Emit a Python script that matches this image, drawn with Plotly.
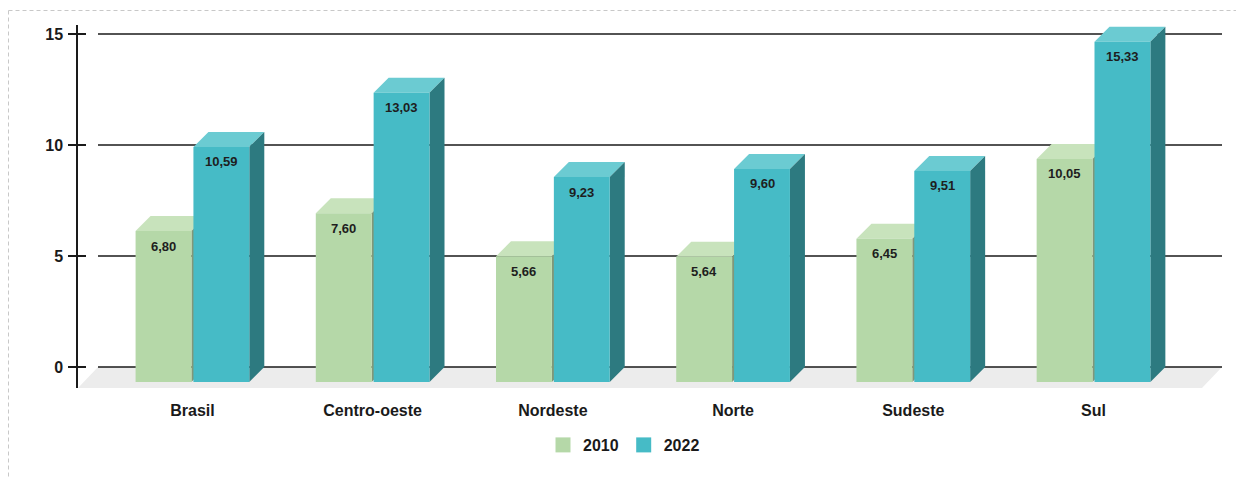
import plotly.graph_objects as go

# ---- data -------------------------------------------------------------
regions = ["Brasil", "Centro-oeste", "Nordeste", "Norte", "Sudeste", "Sul"]
values_2010 = [6.80, 7.60, 5.66, 5.64, 6.45, 10.05]
values_2022 = [10.59, 13.03, 9.23, 9.60, 9.51, 15.33]
series_names = ["2010", "2022"]
y_ticks = [0, 5, 10, 15]

# ---- styling / geometry ----------------------------------------------
FONT = "Liberation Sans, Arial, sans-serif"
FRONT = ["#b5d8a8", "#46bbc6"]
TOP = ["#c8e3bc", "#6bcbd2"]
SIDE = ["#7f9878", "#2d7a80"]

W, H = 1236, 477
M_L, M_R, M_T, M_B = 78, 14, 25, 89
PLOT_W = W - M_L - M_R
PLOT_H = H - M_T - M_B

PX_PER_Y = 22.2          # pixels per value unit
DEPTH_PX = 15            # 3D depth of bars
FLOOR_PX = 20            # depth of floor
FRONT_BASE_PX = 6        # front baseline above plot bottom

X_RANGE = [-0.635, 5.713]
PX_PER_X = PLOT_W / (X_RANGE[1] - X_RANGE[0])

y_front = [-FRONT_BASE_PX / PX_PER_Y, (PLOT_H - FRONT_BASE_PX) / PX_PER_Y]
back_shift = DEPTH_PX / PX_PER_Y
y_back = [y_front[0] - back_shift, y_front[1] - back_shift]

dx = DEPTH_PX / PX_PER_X
dy = DEPTH_PX / PX_PER_Y
BAR_W = 0.31
GAP = 0.011
offsets = [-BAR_W - GAP / 2, GAP / 2]

xs = list(range(len(regions)))
series = [values_2010, values_2022]

fig = go.Figure()
shapes = []

# floor
fx0, fx1 = X_RANGE
fdx = FLOOR_PX / PX_PER_X
f_front = y_front[0]
f_back = y_front[0] + (FLOOR_PX + 1) / PX_PER_Y
shapes.append(dict(
    type="path", xref="x", yref="y", layer="below",
    path=f"M{fx0},{f_front} L{fx1 - fdx},{f_front} L{fx1},{f_back} L{fx0 + fdx},{f_back} Z",
    fillcolor="#ececec", line=dict(width=0)))

# back-wall grid lines
for t in y_ticks:
    shapes.append(dict(
        type="line", xref="x", yref="y2", layer="below",
        x0=fx0 + fdx, x1=fx1, y0=t, y1=t,
        line=dict(color="#1a1a1a", width=1.5)))

# bars with top and side faces
for s, vals in enumerate(series):
    fig.add_trace(go.Bar(
        x=xs, y=vals, offset=offsets[s], width=BAR_W,
        marker=dict(color=FRONT[s], line=dict(width=0)),
        name=series_names[s], showlegend=False,
        hovertemplate="%{y:.2f}<extra>" + series_names[s] + "</extra>"))
    for i, v in zip(xs, vals):
        xl = i + offsets[s]
        xr = xl + BAR_W
        shapes.append(dict(
            type="path", xref="x", yref="y", layer="between",
            path=f"M{xl},{v} L{xr},{v} L{xr + dx},{v + dy} L{xl + dx},{v + dy} Z",
            fillcolor=TOP[s], line=dict(width=0)))
        shapes.append(dict(
            type="path", xref="x", yref="y", layer="between",
            path=f"M{xr},0 L{xr + dx},{dy} L{xr + dx},{v + dy} L{xr},{v} Z",
            fillcolor=SIDE[s], line=dict(width=0)))

# value labels
annotations = []
for s, vals in enumerate(series):
    for i, v in zip(xs, vals):
        annotations.append(dict(
            x=i + offsets[s] + BAR_W / 2, y=v, xref="x", yref="y",
            text=f"{v:.2f}".replace(".", ","), showarrow=False,
            yshift=-15, yanchor="middle",
            font=dict(family=FONT, size=13, color="#1e1e1e", weight="bold")))

# legend entries
for s in range(2):
    fig.add_trace(go.Scatter(
        x=[None], y=[None], mode="markers", name=series_names[s],
        marker=dict(symbol="square", size=15, color=FRONT[s]),
        yaxis="y", showlegend=True))

# dashed frame (top and left)
def px_to_paper_x(px):
    return (px - M_L) / PLOT_W

def px_to_paper_y(py):
    return (H - M_B - py) / PLOT_H

shapes.append(dict(type="line", xref="paper", yref="paper",
                   x0=px_to_paper_x(8.5), x1=px_to_paper_x(W), y0=px_to_paper_y(10.5), y1=px_to_paper_y(10.5),
                   line=dict(color="#c8c8c8", width=1, dash="4px,3px")))
shapes.append(dict(type="line", xref="paper", yref="paper",
                   x0=px_to_paper_x(8.5), x1=px_to_paper_x(8.5), y0=px_to_paper_y(10.5), y1=px_to_paper_y(H),
                   line=dict(color="#c8c8c8", width=1, dash="4px,3px")))

fig.update_layout(
    width=W, height=H,
    margin=dict(l=M_L, r=M_R, t=M_T, b=M_B, pad=0),
    paper_bgcolor="white", plot_bgcolor="white",
    barmode="overlay",
    font=dict(family=FONT, color="#1a1a1a"),
    xaxis=dict(range=X_RANGE, tickvals=xs, ticktext=regions,
               showgrid=False, zeroline=False, showline=False, ticks="",
               ticklabelstandoff=11,
               tickfont=dict(family=FONT, size=16, color="#1a1a1a", weight="bold")),
    yaxis=dict(range=y_front, visible=False, showgrid=False, zeroline=False),
    yaxis2=dict(range=y_back, overlaying="y", side="left", anchor="x",
                tickvals=y_ticks, ticktext=[str(t) for t in y_ticks],
                showgrid=False, zeroline=False,
                showline=True, linecolor="#1a1a1a", linewidth=1.5,
                ticks="outside", ticklen=8, tickwidth=1.5, tickcolor="#1a1a1a",
                ticklabelstandoff=2,
                tickfont=dict(family=FONT, size=16, color="#1a1a1a", weight="bold")),
    yaxis3=dict(range=y_back, overlaying="y", side="left", anchor="x",
                tickvals=y_ticks, showticklabels=False,
                showgrid=False, zeroline=False, showline=False,
                ticks="inside", ticklen=8, tickwidth=1.5, tickcolor="#1a1a1a"),
    legend=dict(orientation="h", x=px_to_paper_x(624), xanchor="center",
                y=px_to_paper_y(445), yanchor="middle",
                font=dict(family=FONT, size=16, color="#1a1a1a", weight="bold"),
                itemsizing="trace", bgcolor="rgba(0,0,0,0)"),
    shapes=shapes,
    annotations=annotations,
)

# give yaxis2/yaxis3 something to draw on
fig.add_trace(go.Scatter(x=[None], y=[None], yaxis="y2", showlegend=False, hoverinfo="skip"))
fig.add_trace(go.Scatter(x=[None], y=[None], yaxis="y3", showlegend=False, hoverinfo="skip"))

fig.write_html("out.html")
